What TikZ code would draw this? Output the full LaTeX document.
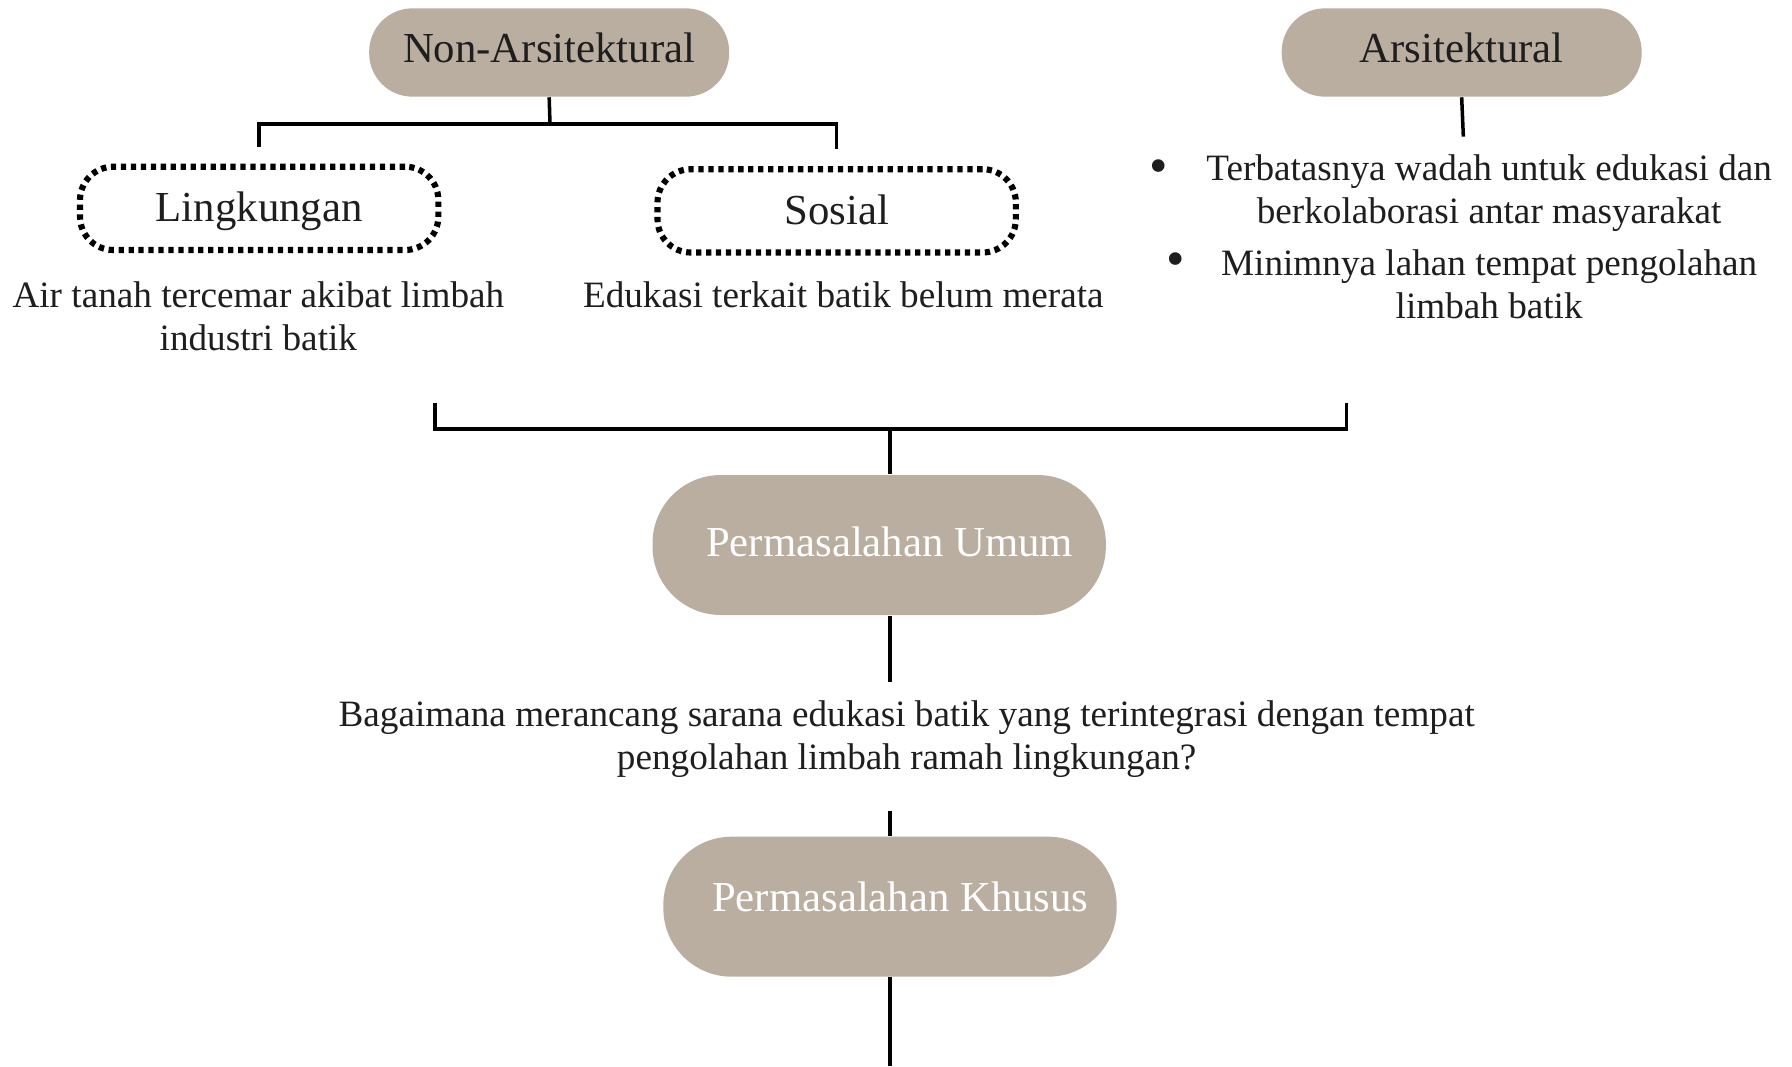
\documentclass[tikz,border=0pt]{standalone}
\usepackage{fontspec}
\setmainfont{Liberation Serif}
\usetikzlibrary{calc}
\definecolor{taupe}{HTML}{B9AEA0}
\definecolor{tinta}{HTML}{1E1E1E}

\begin{document}
\begin{tikzpicture}[
    every node/.append style={font=\rmfamily, text=tinta},
    % gaya kotak
    katbox/.style={fill=taupe, rounded corners=0.52cm, minimum width=4.32cm, minimum height=1.06cm, align=center, text height=10.2pt, text depth=3.2pt, font=\fontsize{14.6}{17}\selectfont},
    aspekbox/.style={draw=black, line width=2.1pt, dash pattern=on 1.8pt off 1.6pt, rounded corners=0.4cm, minimum width=4.3cm, minimum height=1.0cm, align=center, text height=10.2pt, text depth=1pt, font=\fontsize{14.6}{17}\selectfont},
    pokokbox/.style={fill=taupe, rounded corners=0.82cm, minimum width=5.44cm, minimum height=1.68cm, inner xsep=0pt, align=center, text=white, text height=10.2pt, text depth=2.2pt, font=\fontsize{14.6}{17}\selectfont},
    teks/.style={align=center, inner sep=0pt, font=\fontsize{12.7}{14.7}\selectfont},
    titik/.style={inner sep=0pt, font=\fontsize{18}{18}\selectfont},
    garis/.style={line width=1.2pt, black},
]
\useasboundingbox (0,0) rectangle (21.504,-12.792);

% ========== Kategori atas ==========
\node[katbox] (nonarsi) at (6.59, -0.63) {Non-Arsitektural};
\node[katbox] (arsi) at (17.54, -0.63) {Arsitektural};

% ========== Non-Arsitektural ==========
\node[aspekbox] (ling) at (3.11, -2.50) {Lingkungan};
\node[aspekbox] (sos) at (10.04, -2.53) {Sosial};
\node[teks] (lingtxt) at (3.10, -3.79) {Air tanah tercemar akibat limbah\\industri batik};
\node[teks] (sostxt) at (10.12, -3.54) {Edukasi terkait batik belum merata};

\coordinate (nsplit) at (6.60, -1.49);
\draw[garis] (nonarsi.south) -- (nsplit);
\draw[garis, shorten >=0.2cm] (nsplit) -| (ling.north);
\draw[garis, shorten >=0.2cm] (nsplit) -| (sos.north);

% ========== Arsitektural ==========
\node[teks] (item1) at (17.87, -2.32) {Terbatasnya wadah untuk edukasi dan\\berkolaborasi antar masyarakat};
\node[teks] (item2) at (17.87, -3.41) {Minimnya lahan tempat pengolahan\\limbah batik};
\node[titik] (b1) at (13.90, -2.06) {\textbullet};
\node[titik] (b2) at (14.11, -3.18) {\textbullet};

\coordinate (aend) at (17.56, -1.64);
\draw[garis] (arsi.south) -- (aend);

% ========== Penggabung ==========
\coordinate (brl) at (5.22, -4.84);
\coordinate (brr) at (16.16, -4.84);
\coordinate (brbar) at (10.68, -5.15);
\draw[garis] (brl) |- (brbar) -| (brr);

% ========== Permasalahan ==========
% teks sedikit ke kanan dari pusat kotak
\node[pokokbox] (umum) at (10.55, -6.54) {\hspace*{0.25cm}Permasalahan Umum};
\draw[garis] (brbar) -- (brbar |- umum.north);

\node[teks] (tanya) at (10.88, -8.87) {Bagaimana merancang sarana edukasi batik yang terintegrasi dengan tempat\\pengolahan limbah ramah lingkungan?};
\coordinate (uend) at (10.68, -8.18);
\draw[garis] (uend |- umum.south) -- (uend);

\node[pokokbox, text depth=6.8pt] (khusus) at (10.68, -10.88) {\hspace*{0.25cm}Permasalahan Khusus};
\coordinate (kstart) at (10.68, -9.73);
\draw[garis] (kstart) -- (khusus.north);
\coordinate (kend) at (10.68, -12.792);
\draw[garis] (khusus.south) -- (kend);

\end{tikzpicture}
\end{document}
